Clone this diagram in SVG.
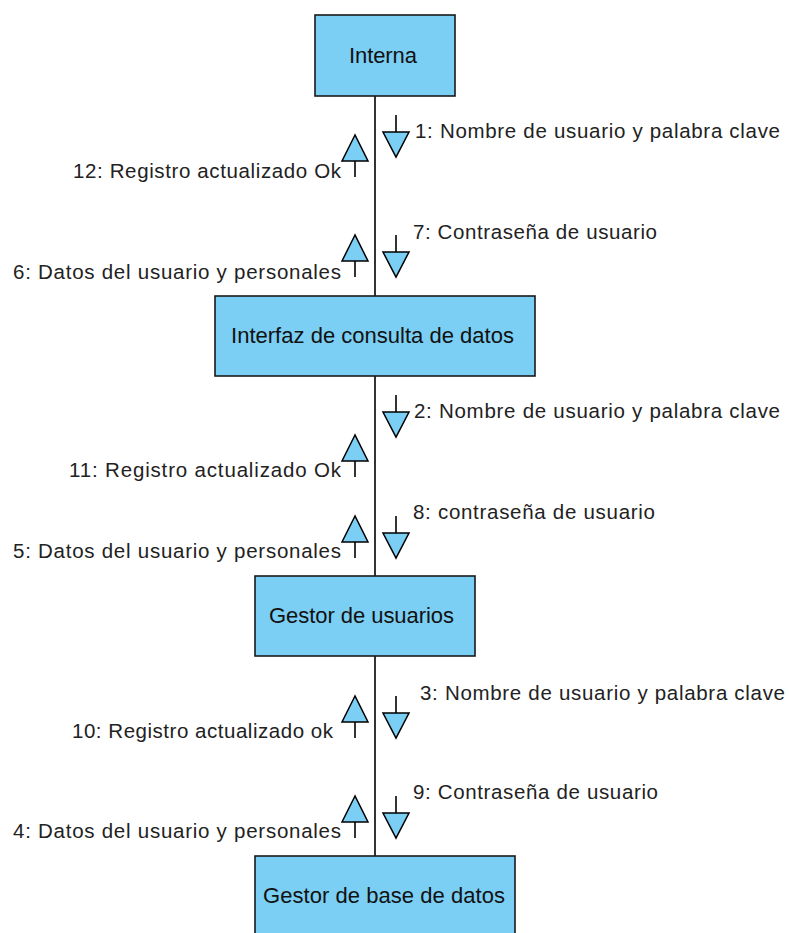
<svg xmlns="http://www.w3.org/2000/svg" width="789" height="933" viewBox="0 0 789 933">
<style>
.box{fill:#7bcff4;stroke:#1a1a1a;stroke-width:1.6}
.bt{font-family:"Liberation Sans",Arial,sans-serif;font-size:22px;fill:#111}
.lb{font-family:"Liberation Sans",Arial,sans-serif;font-size:20.5px;fill:#222}
.ln{stroke:#000;stroke-width:1.6;fill:none}
.ah{fill:#7bcff4;stroke:#000;stroke-width:1.5;stroke-linejoin:miter}
</style>
<defs>
<g id="down"><line class="ln" x1="0" y1="0" x2="0" y2="17"/><polygon class="ah" points="-13,17 13,17 0,42"/></g>
<g id="up"><polygon class="ah" points="0,0 -13,26 13,26"/><line class="ln" x1="0" y1="26" x2="0" y2="42"/></g>
</defs>
<rect width="789" height="933" fill="#fff"/>
<g id="connectors">
<line class="ln" x1="375" y1="96" x2="375" y2="296"/>
<line class="ln" x1="375" y1="376" x2="375" y2="576"/>
<line class="ln" x1="375" y1="656" x2="375" y2="856"/>
<use href="#down" x="396" y="115"/>
<use href="#up" x="355" y="135"/>
<use href="#up" x="355" y="235"/>
<use href="#down" x="396" y="235"/>
<use href="#down" x="396" y="395"/>
<use href="#up" x="355" y="435"/>
<use href="#up" x="355" y="516"/>
<use href="#down" x="396" y="516"/>
<use href="#down" x="396" y="696"/>
<use href="#up" x="355" y="696"/>
<use href="#up" x="355" y="796"/>
<use href="#down" x="396" y="796"/>
<text class="lb" x="415" y="138" textLength="365" lengthAdjust="spacing">1: Nombre de usuario y palabra clave</text>
<text class="lb" x="73" y="178" textLength="268" lengthAdjust="spacing">12: Registro actualizado Ok</text>
<text class="lb" x="413" y="239" textLength="244" lengthAdjust="spacing">7: Contraseña de usuario</text>
<text class="lb" x="13" y="279" textLength="328" lengthAdjust="spacing">6: Datos del usuario y personales</text>
<text class="lb" x="414" y="418" textLength="366" lengthAdjust="spacing">2: Nombre de usuario y palabra clave</text>
<text class="lb" x="69" y="477" textLength="272" lengthAdjust="spacing">11: Registro actualizado Ok</text>
<text class="lb" x="413" y="519" textLength="242" lengthAdjust="spacing">8: contraseña de usuario</text>
<text class="lb" x="13" y="558" textLength="328" lengthAdjust="spacing">5: Datos del usuario y personales</text>
<text class="lb" x="420" y="700" textLength="365" lengthAdjust="spacing">3: Nombre de usuario y palabra clave</text>
<text class="lb" x="72" y="738" textLength="261" lengthAdjust="spacing">10: Registro actualizado ok</text>
<text class="lb" x="413" y="799" textLength="245" lengthAdjust="spacing">9: Contraseña de usuario</text>
<text class="lb" x="13" y="838" textLength="328" lengthAdjust="spacing">4: Datos del usuario y personales</text>
</g>
<g id="interna">
<rect class="box" x="315" y="15" width="140" height="81"/>
<text class="bt" x="349" y="63" textLength="68" lengthAdjust="spacing">Interna</text>
</g>
<g id="interfaz">
<rect class="box" x="215" y="296" width="320" height="80"/>
<text class="bt" x="231" y="343" textLength="283" lengthAdjust="spacing">Interfaz de consulta de datos</text>
</g>
<g id="gestor-usuarios">
<rect class="box" x="255" y="576" width="220" height="80"/>
<text class="bt" x="269" y="623" textLength="185" lengthAdjust="spacing">Gestor de usuarios</text>
</g>
<g id="gestor-bd">
<rect class="box" x="255" y="856" width="260" height="80"/>
<text class="bt" x="263" y="903" textLength="242" lengthAdjust="spacing">Gestor de base de datos</text>
</g>
</svg>
